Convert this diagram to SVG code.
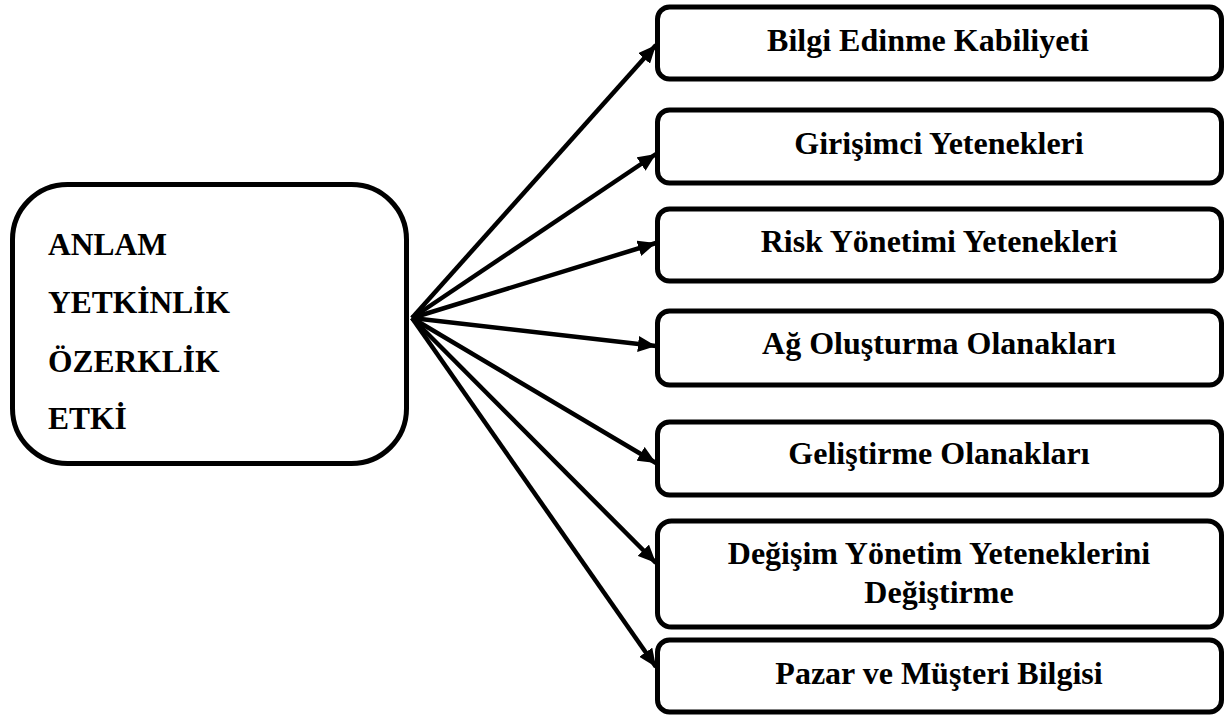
<svg xmlns="http://www.w3.org/2000/svg" width="1225" height="718" viewBox="0 0 1225 718">
<style>
.box{fill:#fff;stroke:#000;stroke-width:5}
.t{font-family:"Liberation Serif","Times New Roman",serif;font-weight:bold;font-size:32px;fill:#000}
.l{font-size:31.5px}
.c{text-anchor:middle}
.conn line{stroke:#000;stroke-width:4.5}
</style>
<defs>
<marker id="ah" markerUnits="userSpaceOnUse" markerWidth="20" markerHeight="16" refX="18" refY="8" orient="auto">
<path d="M0,0 L18,8 L0,16 Z" fill="#000"/>
</marker>
</defs>
<rect width="1225" height="718" fill="#fff"/>
<g id="source">
<rect class="box" x="12.5" y="184.5" width="394" height="279" rx="55" ry="55"/>
<text class="t l" x="48" y="255">ANLAM</text>
<text class="t l" x="48" y="313">YETKİNLİK</text>
<text class="t l" x="48" y="372">ÖZERKLİK</text>
<text class="t l" x="48" y="429">ETKİ</text>
</g>
<g id="n1"><rect class="box" x="657.5" y="7" width="564" height="72" rx="12"/><text class="t c" x="928" y="51">Bilgi Edinme Kabiliyeti</text></g>
<g id="n2"><rect class="box" x="657.5" y="110" width="564" height="73" rx="12"/><text class="t c" x="939" y="154">Girişimci Yetenekleri</text></g>
<g id="n3"><rect class="box" x="657.5" y="209" width="564" height="72" rx="12"/><text class="t c" x="939" y="252">Risk Yönetimi Yetenekleri</text></g>
<g id="n4"><rect class="box" x="657.5" y="311" width="564" height="74" rx="12"/><text class="t c" x="939" y="354">Ağ Oluşturma Olanakları</text></g>
<g id="n5"><rect class="box" x="657.5" y="422" width="564" height="73" rx="12"/><text class="t c" x="939" y="464">Geliştirme Olanakları</text></g>
<g id="n6"><rect class="box" x="657.5" y="521" width="564" height="106" rx="14"/><text class="t c" x="939" y="564">Değişim Yönetim Yeteneklerini</text><text class="t c" x="939" y="603">Değiştirme</text></g>
<g id="n7"><rect class="box" x="657.5" y="640" width="564" height="72" rx="12"/><text class="t c" x="939" y="684">Pazar ve Müşteri Bilgisi</text></g>
<g id="connectors" class="conn">
<line x1="412" y1="318" x2="656" y2="45" marker-end="url(#ah)"/>
<line x1="412" y1="318" x2="656" y2="154" marker-end="url(#ah)"/>
<line x1="412" y1="318" x2="656" y2="243" marker-end="url(#ah)"/>
<line x1="412" y1="318" x2="656" y2="346" marker-end="url(#ah)"/>
<line x1="412" y1="318" x2="656" y2="463" marker-end="url(#ah)"/>
<line x1="412" y1="318" x2="656" y2="563" marker-end="url(#ah)"/>
<line x1="412" y1="318" x2="656" y2="667" marker-end="url(#ah)"/>
</g>
</svg>
